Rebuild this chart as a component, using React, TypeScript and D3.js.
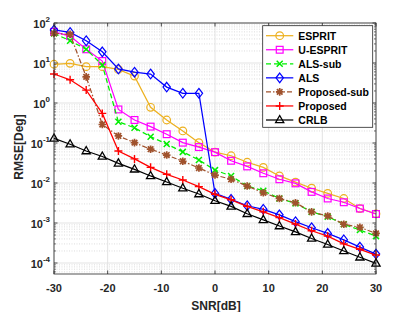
import * as d3 from "d3";

// SNR axis, one point every 3 dB
const snr = [-30, -27, -24, -21, -18, -15, -12, -9, -6, -3, 0, 3, 6, 9, 12, 15, 18, 21, 24, 27, 30];

const esprit = [9.3, 9.8, 8.1, 8.1, 6.9, 4.7, 0.78, 0.376, 0.2, 0.102, 0.059, 0.048, 0.033, 0.0245, 0.015, 0.0105, 0.0074, 0.0055, 0.0041, 0.0023, 0.0017];
const uEsprit = [60, 47, 22, 11.2, 0.69, 0.376, 0.257, 0.166, 0.102, 0.079, 0.059, 0.036, 0.026, 0.0175, 0.0124, 0.0098, 0.006, 0.0041, 0.0033, 0.0023, 0.00168];
const alsSub = [55, 36, 22, 8.9, 0.34, 0.24, 0.144, 0.094, 0.06, 0.0376, 0.021, 0.015, 0.0084, 0.0064, 0.0041, 0.0031, 0.0019, 0.00144, 0.00093, 0.00067, 0.00047];
const als = [67, 58, 36, 19, 7.1, 5.9, 5.3, 2.5, 1.75, 1.75, 0.0055, 0.0039, 0.0027, 0.0022, 0.0016, 0.00108, 0.00076, 0.00055, 0.00038, 0.00025, 0.000167];
const proposedSub = [55, 52, 4.5, 0.29, 0.15, 0.102, 0.07, 0.05, 0.035, 0.0237, 0.0158, 0.0124, 0.0084, 0.0057, 0.0041, 0.0032, 0.0019, 0.0015, 0.00093, 0.00078, 0.00055];
const proposed = [5.3, 3.8, 2.1, 0.55, 0.063, 0.04, 0.0246, 0.0165, 0.0119, 0.0081, 0.0052, 0.0038, 0.0026, 0.0019, 0.00136, 0.00094, 0.00064, 0.00047, 0.0003, 0.00022, 0.000158];
const crlb = [0.13, 0.093, 0.063, 0.046, 0.031, 0.022, 0.015, 0.0106, 0.0074, 0.0053, 0.0036, 0.0026, 0.0017, 0.0012, 0.00084, 0.0006, 0.00041, 0.00029, 0.0002, 0.000139, 0.0000977];

const xTicks = [-30, -20, -10, 0, 10, 20, 30];
const yExps = [-4, -3, -2, -1, 0, 1, 2];

const series = [
  { name: "ESPRIT", values: esprit, color: "#EDB120", dash: "", marker: "circle" },
  { name: "U-ESPRIT", values: uEsprit, color: "#FF00FF", dash: "", marker: "square" },
  { name: "ALS-sub", values: alsSub, color: "#00EE00", dash: "5,3", marker: "x" },
  { name: "ALS", values: als, color: "#0000FF", dash: "", marker: "diamond" },
  { name: "Proposed-sub", values: proposedSub, color: "#A0522D", dash: "5,2,1.5,2", marker: "star" },
  { name: "Proposed", values: proposed, color: "#FF0000", dash: "", marker: "plus" },
  { name: "CRLB", values: crlb, color: "#000000", dash: "", marker: "triangle" },
];

const font = "'Liberation Sans', Arial, Helvetica, sans-serif";

function Marker({ type, x, y, color }) {
  const s = { fill: "none", stroke: color, strokeWidth: 1.2 };
  switch (type) {
    case "circle":
      return <circle cx={x} cy={y} r={3.8} {...s} />;
    case "square":
      return <rect x={x - 3.4} y={y - 3.4} width={6.8} height={6.8} {...s} />;
    case "x":
      return <path d={`M${x - 3},${y - 3}L${x + 3},${y + 3}M${x - 3},${y + 3}L${x + 3},${y - 3}`} {...s} strokeWidth={1.5} />;
    case "diamond":
      return <path d={`M${x},${y - 4.8}L${x + 3.7},${y}L${x},${y + 4.8}L${x - 3.7},${y}Z`} {...s} />;
    case "star":
      return (
        <path
          d={`M${x - 3.8},${y}L${x + 3.8},${y}M${x},${y - 3.8}L${x},${y + 3.8}M${x - 2.8},${y - 2.8}L${x + 2.8},${y + 2.8}M${x - 2.8},${y + 2.8}L${x + 2.8},${y - 2.8}`}
          {...s}
          strokeWidth={1.7}
        />
      );
    case "plus":
      return <path d={`M${x - 4},${y}L${x + 4},${y}M${x},${y - 4}L${x},${y + 4}`} {...s} strokeWidth={1.4} />;
    case "triangle":
      return <path d={`M${x},${y - 4.5}L${x + 4.1},${y + 2.7}L${x - 4.1},${y + 2.7}Z`} {...s} strokeWidth={1.3} />;
    default:
      return null;
  }
}

export default function App() {
  const width = 415;
  const height = 312;
  const left = 54, right = 376, top = 23, bottom = 274;

  const x = d3.scaleLinear().domain([-30, 30]).range([left, right]);
  const y = d3.scaleLog().domain([Math.pow(10, -4.275), 100]).range([bottom, top]);

  const line = d3
    .line<number>()
    .x((_, i) => x(snr[i]))
    .y((d) => y(d));

  // minor log ticks
  const minor: number[] = [];
  for (let e = -5; e < 2; e++) {
    for (let m = 2; m <= 9; m++) {
      const v = m * Math.pow(10, e);
      if (v >= y.domain()[0] && v <= 100) minor.push(v);
    }
  }

  const legX = 262.7, legY = 25.7, legW = 110, legH = 101.6;
  const rowH = 14.05;

  return (
    <svg width={width} height={height} style={{ position: "absolute", left: 0, top: 0, background: "#fff" }} fontFamily={font}>
      <rect x={0} y={0} width={width} height={height} fill="#fff" />
      {/* minor grid */}
      {minor.map((v) => (
        <line key={"mg" + v} x1={left} x2={right} y1={y(v)} y2={y(v)} stroke="#cfcfcf" strokeWidth={0.7} strokeDasharray="1,1.5" />
      ))}
      {/* major grid */}
      {yExps.map((e) => (
        <line key={"gy" + e} x1={left} x2={right} y1={y(Math.pow(10, e))} y2={y(Math.pow(10, e))} stroke="#e0e0e0" strokeWidth={0.9} />
      ))}
      {xTicks.map((t) => (
        <line key={"gx" + t} x1={x(t)} x2={x(t)} y1={top} y2={bottom} stroke="#e0e0e0" strokeWidth={0.9} />
      ))}

      {/* series */}
      {series.map((s) => (
        <g key={s.name}>
          <path d={line(s.values) || ""} fill="none" stroke={s.color} strokeWidth={1.25} strokeDasharray={s.dash || undefined} />
          {s.values.map((v, i) => (
            <Marker key={i} type={s.marker} x={x(snr[i])} y={y(v)} color={s.color} />
          ))}
        </g>
      ))}

      {/* axes box */}
      <rect x={left} y={top} width={right - left} height={bottom - top} fill="none" stroke="#262626" strokeWidth={0.8} />
      {xTicks.map((t) => (
        <g key={"tx" + t}>
          <line x1={x(t)} x2={x(t)} y1={bottom} y2={bottom - 3.5} stroke="#262626" strokeWidth={0.8} />
          <line x1={x(t)} x2={x(t)} y1={top} y2={top + 3.5} stroke="#262626" strokeWidth={0.8} />
          <text x={x(t)} y={292.3} textAnchor="middle" fontSize={11} fontWeight="bold" fill="#262626">
            {t}
          </text>
        </g>
      ))}
      {minor.map((v) => (
        <g key={"mt" + v}>
          <line x1={left} x2={left + 2} y1={y(v)} y2={y(v)} stroke="#262626" strokeWidth={0.6} />
          <line x1={right} x2={right - 2} y1={y(v)} y2={y(v)} stroke="#262626" strokeWidth={0.6} />
        </g>
      ))}
      {yExps.map((e) => (
        <g key={"ty" + e}>
          <line x1={left} x2={left + 3.5} y1={y(Math.pow(10, e))} y2={y(Math.pow(10, e))} stroke="#262626" strokeWidth={0.8} />
          <line x1={right} x2={right - 3.5} y1={y(Math.pow(10, e))} y2={y(Math.pow(10, e))} stroke="#262626" strokeWidth={0.8} />
          <text x={left - 4} y={y(Math.pow(10, e)) + 4.8} textAnchor="end" fontSize={11} fontWeight="bold" fill="#262626">
            10
            <tspan fontSize={8} dy={-5.5}>
              {e}
            </tspan>
          </text>
        </g>
      ))}

      <text x={216} y={309.5} textAnchor="middle" fontSize={12} fontWeight="bold" fill="#262626">
        SNR[dB]
      </text>
      <text transform={`translate(22.5,147) rotate(-90)`} textAnchor="middle" fontSize={12} fontWeight="bold" fill="#262626">
        RMSE[Deg]
      </text>

      {/* legend */}
      <rect x={legX} y={legY} width={legW} height={legH} fill="#fff" stroke="#262626" strokeWidth={0.8} />
      {series.map((s, i) => {
        const cy = legY + 10 + i * rowH;
        return (
          <g key={"lg" + s.name}>
            <line x1={legX + 3.3} x2={legX + 30.6} y1={cy} y2={cy} stroke={s.color} strokeWidth={1.25} strokeDasharray={s.dash || undefined} />
            <Marker type={s.marker} x={legX + 17} y={cy} color={s.color} />
            <text x={legX + 35.6} y={cy + 3.9} fontSize={10.5} fontWeight="bold" fill="#000">
              {s.name}
            </text>
          </g>
        );
      })}
    </svg>
  );
}
